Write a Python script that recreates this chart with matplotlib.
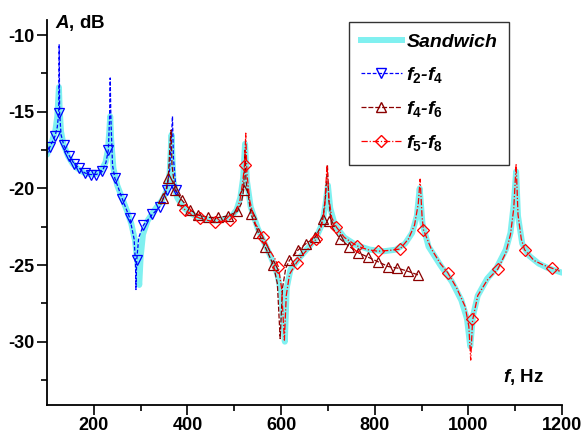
import matplotlib
matplotlib.use("Agg")
import matplotlib.pyplot as plt
from matplotlib.lines import Line2D

plt.rcParams['font.family'] = ['Liberation Sans', 'DejaVu Sans']
plt.rcParams['font.weight'] = 'bold'
plt.rcParams['axes.unicode_minus'] = False
plt.rcParams['mathtext.fontset'] = 'custom'
plt.rcParams['mathtext.it'] = 'Liberation Sans:italic:bold'
plt.rcParams['mathtext.rm'] = 'Liberation Sans:bold'
plt.rcParams['mathtext.bf'] = 'Liberation Sans:bold'

# Sandwich (cyan, thick)
sandwich_f = [100, 110, 118, 122, 124, 125.5, 127, 130, 135, 145, 155, 165, 180, 195, 205, 215,
              225, 230, 233, 235, 237, 242, 250, 260, 270, 280, 288, 293, 297, 300, 305, 315,
              330, 345, 355, 362, 366, 370, 378, 390, 405, 420, 440, 460, 480, 495, 505, 513,
              519, 523, 527, 535, 550, 565, 580, 592, 600, 608, 612, 620, 640, 660, 675, 688,
              695, 700, 705, 715, 735, 760, 790, 820, 845, 865, 880, 890, 896, 902, 915, 940,
              965, 985, 997, 1004, 1010, 1020, 1040, 1060, 1080, 1090, 1097, 1102, 1106, 1115,
              1130, 1150, 1170, 1200]
sandwich_a = [-17.8, -17.0, -16.2, -15.3, -14.2, -13.4, -14.8, -16.3, -17.1, -17.9, -18.4, -18.7,
              -19.0, -19.1, -19.05, -18.9, -18.3, -17.5, -16.3, -15.3, -16.8, -18.7, -19.8, -20.6,
              -21.4, -22.3, -23.4, -24.8, -26.3, -24.5, -23.0, -22.1, -21.4, -20.8, -20.2, -19.0,
              -16.5, -19.5, -20.6, -21.2, -21.6, -21.85, -22.0, -22.1, -22.0, -21.8, -21.4, -20.6,
              -19.3, -17.1, -19.5, -21.2, -22.6, -23.6, -24.6, -25.6, -26.8, -30.0, -26.5, -25.3,
              -24.5, -23.8, -23.2, -22.3, -21.0, -19.8, -21.3, -22.4, -23.2, -23.7, -24.0, -24.1,
              -24.0, -23.6, -22.9, -21.8, -20.0, -22.3, -23.8, -25.0, -26.1, -27.3, -28.5, -30.3,
              -28.3, -27.0, -25.9, -25.2, -24.0, -22.9, -21.0, -18.9, -21.8, -23.6, -24.4, -24.9,
              -25.2, -25.5]

# f2-f4 (blue)
f24_f = [100, 106, 117, 122, 125, 126, 127, 130, 136, 148, 158, 169, 181, 193, 205, 218, 226,
         231, 233.5, 235, 236.5, 240, 245, 261, 277, 286, 289, 290, 291.6, 296, 306, 325, 341,
         355.7, 362, 366, 368, 370, 375.6, 378]
f24_a = [-17.8, -17.3, -16.6, -16.0, -15.1, -10.6, -15.1, -16.5, -17.2, -17.9, -18.4, -18.7,
         -19.0, -19.1, -19.1, -18.9, -18.3, -17.5, -15.5, -12.8, -15.5, -18.5, -19.35, -20.7,
         -21.96, -23.3, -24.9, -26.6, -24.68, -23.2, -22.4, -21.7, -21.2, -20.1, -18.8, -16.5,
         -15.3, -18.0, -20.1, -20.4]
f24_mark_f = [106, 117, 126, 136, 148, 158, 169, 181, 193, 205, 218, 231, 245, 261, 277, 291.6,
              306, 325, 341, 355.7, 375.6]
f24_mark_a = [-17.3, -16.6, -15.1, -17.2, -17.9, -18.4, -18.7, -19.0, -19.1, -19.1, -18.9, -17.5,
              -19.35, -20.7, -21.96, -24.68, -22.4, -21.7, -21.2, -20.1, -20.1]

# f4-f6 (dark red)
f46_f = [345, 348.5, 355, 359, 363, 365, 367, 373.5, 388, 405.5, 423, 444.7, 466, 487, 506.6,
         515, 520, 523, 525, 536, 551.6, 565.8, 583.5, 592, 598, 603, 610, 617.7, 637, 653.4,
         672.6, 683, 689, 695, 699, 702, 708, 726, 746, 765, 786.6, 808, 829, 848.5, 870, 893]
f46_a = [-20.9, -20.65, -20.0, -19.35, -17.0, -16.2, -18.5, -20.1, -20.76, -21.4, -21.74, -21.9,
         -21.9, -21.8, -21.5, -21.0, -20.1, -17.5, -19.5, -21.7, -22.9, -23.8, -25.0, -26.2,
         -29.8, -26.5, -25.2, -24.7, -24.0, -23.6, -23.2, -22.6, -22.0, -20.5, -18.5, -20.8,
         -22.5, -23.3, -23.8, -24.2, -24.5, -24.8, -25.1, -25.2, -25.4, -25.65]
f46_mark_f = [348.5, 359, 373.5, 388, 405.5, 423, 444.7, 466, 487, 506.6, 521, 536, 551.6, 565.8,
              583.5, 617.7, 637, 653.4, 672.6, 689, 703, 726, 746, 765, 786.6, 808, 829, 848.5,
              870, 893]
f46_mark_a = [-20.65, -19.35, -20.1, -20.76, -21.4, -21.74, -21.9, -21.9, -21.8, -21.5, -20.1,
              -21.7, -22.9, -23.8, -25.0, -24.7, -24.0, -23.6, -23.2, -22.0, -22.1, -23.3, -23.8,
              -24.2, -24.5, -24.8, -25.1, -25.2, -25.4, -25.65]

# f5-f8 (red)
f58_f = [380, 395, 410, 427, 445, 459, 475, 491, 503, 512, 518, 522, 524.5, 527, 533, 545, 561,
         575, 587, 594, 601, 607, 611, 618, 633, 650, 665, 675, 686, 693, 698, 702, 708, 717.5,
         735, 761.7, 785, 806.6, 830, 854, 872, 885, 893, 897, 901, 904, 920, 940, 956, 975, 993,
         1001, 1005, 1009, 1020, 1040, 1063, 1080, 1090, 1097, 1102, 1106, 1113, 1120, 1140,
         1160, 1178, 1195]
f58_a = [-21.0, -21.4, -21.75, -21.95, -22.1, -22.2, -22.15, -22.05, -21.6, -20.8, -19.6, -18.5,
         -16.4, -19.0, -20.8, -22.3, -23.15, -24.0, -24.6, -25.1, -26.5, -29.9, -27.0, -25.6,
         -24.85, -24.2, -23.7, -23.3, -22.5, -21.3, -18.5, -20.6, -21.9, -22.5, -23.2, -23.75,
         -24.0, -24.1, -24.05, -23.96, -23.3, -22.4, -21.0, -19.4, -21.8, -22.7, -23.9, -24.9,
         -25.5, -26.5, -27.7, -29.0, -31.2, -28.6, -27.0, -26.0, -25.26, -24.2, -23.0, -21.3,
         -18.4, -21.7, -23.3, -24.0, -24.7, -25.0, -25.2, -25.4]
f58_mark_f = [395, 427, 459, 491, 522, 561, 594, 633, 675, 717.5, 761.7, 806.6, 854, 904, 956,
              1007, 1063, 1120, 1178]
f58_mark_a = [-21.4, -21.95, -22.2, -22.05, -18.5, -23.15, -25.1, -24.85, -23.3, -22.5, -23.75,
              -24.1, -23.96, -22.7, -25.5, -28.55, -25.26, -24.0, -25.2]

labels = ['Sandwich', r'$f_{2}$-$f_{4}$', r'$f_{4}$-$f_{6}$', r'$f_{5}$-$f_{8}$']

cyan = '#80F0F0'
blue = '#0000FF'
dred = '#8B0000'
red = '#FF0000'

fig = plt.figure(figsize=(5.83, 4.37), dpi=100)
ax = fig.add_axes([47 / 583, 1 - 405 / 437, (562 - 47) / 583, (405 - 20) / 437])

ax.plot(sandwich_f, sandwich_a, color=cyan, lw=4.3, solid_capstyle='round', zorder=1)
ax.plot(f24_f, f24_a, color=blue, lw=0.9, ls=(0, (3, 1.5)), zorder=2)
ax.plot(f24_mark_f, f24_mark_a, ls='none', marker='v', ms=7.5, mfc='none', mec=blue, mew=0.9, zorder=2)
ax.plot(f46_f, f46_a, color=dred, lw=0.9, ls=(0, (4, 1.5)), zorder=3)
ax.plot(f46_mark_f, f46_mark_a, ls='none', marker='^', ms=7.5, mfc='none', mec=dred, mew=0.9, zorder=3)
ax.plot(f58_f, f58_a, color=red, lw=0.9, ls=(0, (5, 1.5, 1, 1.5)), zorder=4)
ax.plot(f58_mark_f, f58_mark_a, ls='none', marker='D', ms=6.5, mfc='none', mec=red, mew=0.9, zorder=4)

ax.set_xlim(100, 1200)
ax.set_ylim(-34.13, -9.02)
ax.set_xticks([200, 400, 600, 800, 1000, 1200])
ax.set_xticks([300, 500, 700, 900, 1100], minor=True)
ax.set_yticks([-10, -15, -20, -25, -30])
ax.set_yticks([-12.5, -17.5, -22.5, -27.5, -32.5], minor=True)
ax.tick_params(which='major', length=7, width=1.2, labelsize=13, pad=2)
ax.tick_params(which='minor', length=4, width=1.2)
for s in ['top', 'right']:
    ax.spines[s].set_visible(False)
for s in ['left', 'bottom']:
    ax.spines[s].set_linewidth(1.3)

fig.text(55 / 583, 1 - 23 / 437, r'$A$, dB', fontsize=13.5, fontweight='bold', va='center', ha='left')
fig.text(503 / 583, 1 - 377 / 437, r'$f$, Hz', fontsize=13.5, fontweight='bold', va='center', ha='left')

handles = [
    Line2D([], [], color=cyan, lw=4.3),
    Line2D([], [], color=blue, lw=0.9, ls=(0, (3, 1.5)), marker='v', ms=7.5, mfc='none', mec=blue),
    Line2D([], [], color=dred, lw=0.9, ls=(0, (4, 1.5)), marker='^', ms=7.5, mfc='none', mec=dred),
    Line2D([], [], color=red, lw=0.9, ls=(0, (5, 1.5, 1, 1.5)), marker='D', ms=6.5, mfc='none', mec=red),
]
leg = ax.legend(handles, labels, loc='upper left', bbox_to_anchor=(349 / 583, 1 - 22 / 437),
                bbox_transform=fig.transFigure, frameon=True, fancybox=False, edgecolor='black',
                prop={'size': 14, 'weight': 'bold', 'style': 'italic'}, handlelength=2.1,
                handletextpad=0.25, labelspacing=0.72, borderpad=0.6, borderaxespad=0)
leg.get_frame().set_linewidth(1.0)

fig.savefig('out.png', dpi=100)
